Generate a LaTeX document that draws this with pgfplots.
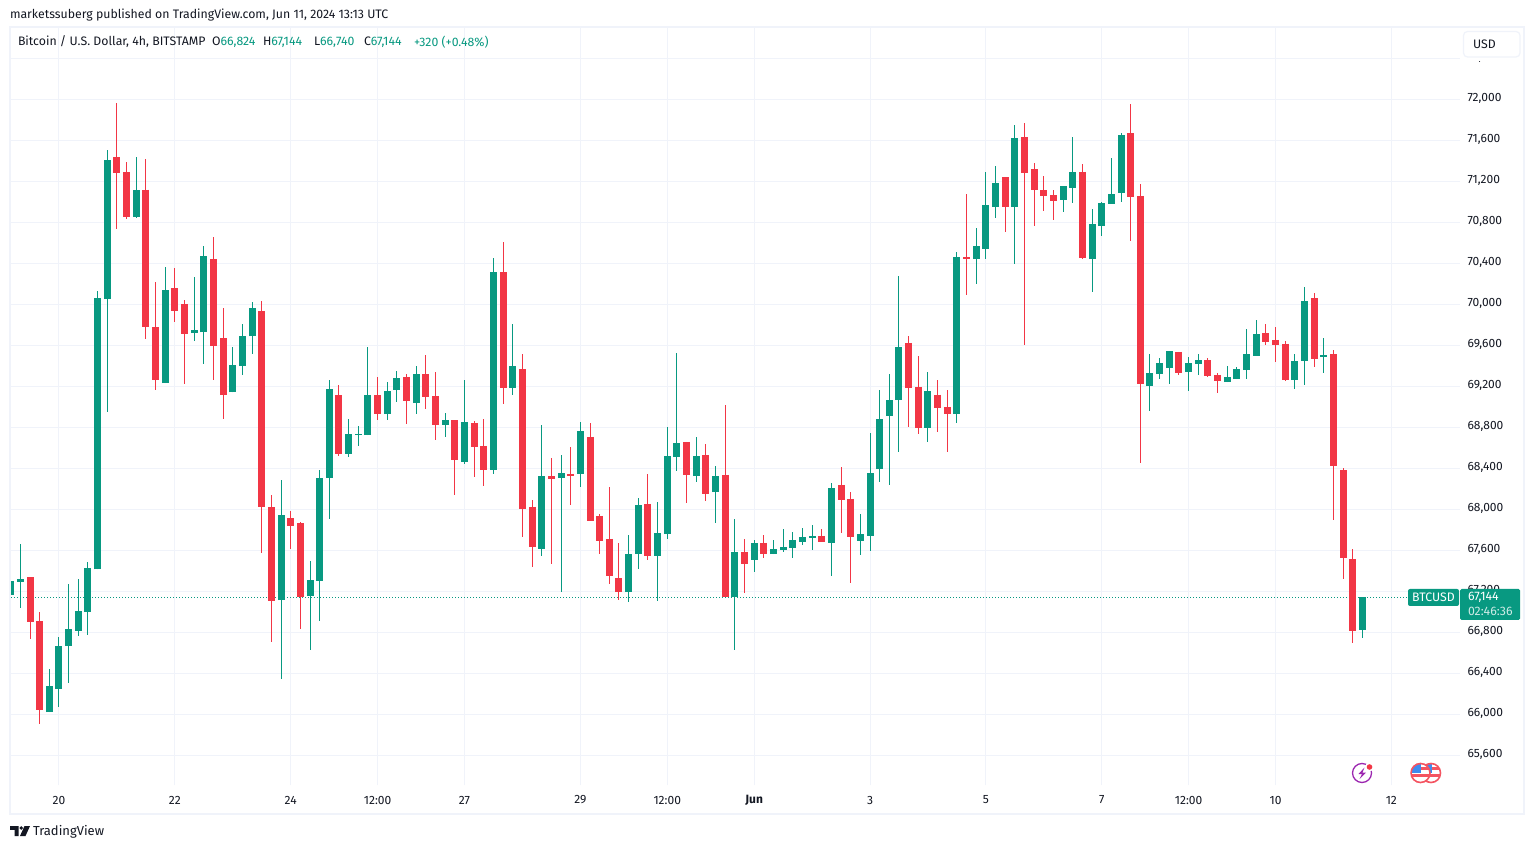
\documentclass[border=0pt]{standalone}
\usepackage{fontspec}
\setmainfont{Fira Sans}
\usepackage{pgfplots}
\usepackage{pgfplotstable}
\pgfplotsset{compat=1.18}
\definecolor{tvgreen}{HTML}{089981}
\definecolor{tvred}{HTML}{F23645}
\definecolor{tvgrid}{HTML}{F0F3FA}
\definecolor{tvtext}{HTML}{131722}
\definecolor{tvpurple}{HTML}{9C27B0}
\definecolor{tvblue}{HTML}{3D8BEF}
\pgfplotstableread{
i o h l c
0 67165 67300 67000 67300
1 67292 67662 67041 67320
4 66022 66440 66022 66277
5 66245 66755 66070 66667
6 66667 67272 66305 66830
7 66814 67320 66762 67009
8 66997 67487 66775 67427
9 67415 70130 67415 70058
10 70050 71503 68947 71407
13 70850 71435 70838 71120
16 69230 70360 69230 70137
19 69719 70265 69644 69747
20 69727 70567 69417 70468
23 69142 69580 69142 69405
24 69397 69807 69310 69688
25 69688 70022 69513 69962
28 67115 68286 66345 67945
31 67154 67496 66627 67310
32 67301 68384 66910 68306
33 68306 69262 67905 69174
35 68540 68881 68510 68735
36 68725 68813 68618 68735
37 68725 69584 68725 69115
39 68930 69242 68871 69154
40 69164 69349 69047 69281
42 69037 69398 68930 69320
45 68823 68940 68705 68871
47 68462 69262 68442 68852
50 68384 70452 68344 70315
52 69184 69808 69115 69398
55 67613 68823 67545 68325
57 68306 68530 67193 68354
59 68345 68852 68218 68764
64 67193 67750 67096 67564
65 67564 68110 67418 68042
67 67545 68072 67106 67769
68 67759 68803 67711 68520
69 68510 69525 68374 68647
71 68325 68706 68267 68520
73 68169 68423 67867 68325
75 67145 67906 66628 67584
77 67506 67701 67389 67672
79 67564 67701 67564 67613
80 67604 67809 67584 67633
81 67623 67779 67525 67701
82 67682 67818 67652 67731
83 67721 67848 67604 67740
85 67672 68257 67350 68209
88 67692 67955 67555 67760
89 67740 68745 67594 68355
90 68394 69165 68267 68882
91 68911 69321 68238 69067
92 69067 70277 68560 69584
95 68794 69340 68657 69155
98 68930 70510 68842 70461
100 70442 70744 70198 70569
101 70540 71291 70442 70969
102 70949 71349 70842 71183
104 70949 71749 70393 71622
109 71018 71154 70901 71154
110 71135 71632 70988 71291
112 70442 70930 70120 70783
113 70764 70998 70666 70988
114 70979 71427 70979 71076
115 71086 71671 70998 71652
118 69203 69515 68959 69330
119 69320 69476 69271 69427
120 69378 69544 69222 69544
122 69339 69486 69154 69427
123 69417 69515 69310 69456
126 69242 69398 69242 69291
127 69271 69388 69271 69369
128 69359 69759 69271 69515
129 69496 69847 69496 69710
133 69261 69515 69174 69447
134 69447 70169 69213 70032
136 69486 69671 69330 69505
140 66824 67144 66740 67144
}\up
\pgfplotstableread{
i o h l c
2 67339 67339 66735 66902
3 66910 66997 65907 66042
11 71435 71960 70730 71280
12 71288 71387 70830 70850
14 71120 71415 69660 69775
15 69775 70217 69162 69262
17 70157 70352 69827 69934
18 70002 70042 69222 69707
21 70440 70655 69262 69592
22 69668 69962 68880 69115
26 69934 70030 67574 68020
27 68020 68140 66706 67105
29 67915 67984 67613 67837
30 67866 67876 66832 67145
34 69115 69213 68520 68540
38 69115 69291 68871 68930
41 69291 69320 68832 69057
43 69320 69505 68979 69096
44 69105 69340 68676 68823
46 68871 68871 68140 68481
48 68842 68862 68315 68608
49 68618 68881 68227 68384
51 70315 70608 69027 69184
53 69369 69515 67730 68003
54 68023 68091 67437 67633
56 68325 68501 67467 68296
58 68345 68608 68042 68325
60 68706 68842 67886 67886
61 67935 67954 67564 67691
62 67711 68218 67272 67350
63 67330 67672 67115 67193
66 68052 68345 67506 67545
70 68657 68657 68062 68335
72 68530 68637 68081 68150
74 68335 69018 67145 67145
76 67584 67711 67184 67467
78 67672 67750 67525 67564
84 67740 67809 67682 67682
86 68238 68413 67770 68092
87 68101 68170 67282 67731
93 69623 69692 68804 69184
94 69194 69496 68735 68794
96 69116 69262 68755 68989
97 68999 69165 68560 68931
99 70461 71076 70091 70442
103 71242 71242 70705 70949
105 71632 71769 69603 71281
106 71320 71379 70764 71115
107 71115 71252 70910 71057
108 71066 71115 70822 71008
111 71291 71369 70442 70452
116 71671 71954 70618 71047
117 71057 71174 68452 69222
121 69535 69535 69310 69330
124 69456 69476 69291 69300
125 69310 69330 69135 69252
130 69720 69808 69603 69632
131 69652 69778 69437 69603
132 69613 69642 69252 69261
135 70061 70110 69388 69466
137 69515 69554 67896 68422
138 68383 68403 67320 67525
139 67515 67613 66696 66813
}\down
\begin{document}
\begin{tikzpicture}[x=1pt,y=1pt]
\useasboundingbox (0,0) rectangle (1534,849);
\fill[white] (0,0) rectangle (1534,849);
\begin{axis}[
  at={(11pt,64pt)}, anchor=south west,
  width=1449pt, height=758pt, scale only axis,
  xmin=0.03, xmax=150.11, ymin=65310.5, ymax=72705.7,
  axis line style={draw=none}, tick style={draw=none},
  xtick={5,17,29,38,47,59,68,77,89,101,113,122,131,143},
  xticklabels={20,22,24,12:00,27,29,12:00,\textbf{Jun},3,5,7,12:00,10,12},
  ytick={65600,66000,...,72400},
  yticklabel pos=right,
  scaled y ticks=false,
  /pgf/number format/1000 sep={,},
  /pgf/number format/assume math mode=true,
  y tick label style={font=\fontsize{12}{14}\selectfont,text=tvtext,anchor=west,xshift=4pt,yshift=0.7pt},
  x tick label style={font=\fontsize{12}{14}\selectfont,text=tvtext,anchor=center,yshift=-15pt},
  grid=both, major grid style={draw=tvgrid,line width=1pt},
]
\addplot[tvgreen,line width=1pt,dash pattern=on 1pt off 2pt,forget plot] coordinates {(0.03,67144) (145,67144)};
% wicks
\addplot[draw=none,no marks,forget plot,error bars/.cd,y dir=both,y explicit,error mark=none,error bar style={line width=1pt,draw=tvgreen}]
  table[x=i,y=o,y error plus expr=\thisrow{h}-\thisrow{o},y error minus expr=\thisrow{o}-\thisrow{l}] {\up};
\addplot[draw=none,no marks,forget plot,error bars/.cd,y dir=both,y explicit,error mark=none,error bar style={line width=1pt,draw=tvred}]
  table[x=i,y=o,y error plus expr=\thisrow{h}-\thisrow{o},y error minus expr=\thisrow{o}-\thisrow{l}] {\down};
% bodies
\addplot[draw=none,no marks,forget plot,error bars/.cd,y dir=plus,y explicit,error mark=none,error bar style={line width=7pt,draw=tvgreen}]
  table[x=i,y=o,y error plus expr=\thisrow{c}-\thisrow{o}] {\up};
\addplot[draw=none,no marks,forget plot,error bars/.cd,y dir=minus,y explicit,error mark=none,error bar style={line width=7pt,draw=tvred}]
  table[x=i,y=o,y error minus expr=\thisrow{o}-\thisrow{c}] {\down};
\end{axis}
\begin{scope}[shift={(0,849)},yscale=-1,every node/.style={inner sep=0pt,outer sep=0pt,font=\fontsize{12.3}{14}\selectfont,text=tvtext}]
  % outer border
  \draw[tvgrid,line width=2pt] (10,27) rectangle (1524,814);
  % header
  \node[anchor=west] at (10,15) {marketssuberg published on TradingView.com, Jun 11, 2024 13:13 UTC};
  \node[anchor=west] at (18,42) {Bitcoin / U.S. Dollar, 4h, BITSTAMP};
  \node[anchor=west] at (212,42) {O\textcolor{tvgreen}{66,824}};
  \node[anchor=west] at (263,42) {H\textcolor{tvgreen}{67,144}};
  \node[anchor=west] at (314,42) {L\textcolor{tvgreen}{66,740}};
  \node[anchor=west] at (364,42) {C\textcolor{tvgreen}{67,144}};
  \node[anchor=west] at (414,42) {\textcolor{tvgreen}{+320 (+0.48\%)}};
  % USD button
  \fill[white] (1462,50) rectangle (1522,61.5);
  \draw[tvgrid,fill=white,line width=1.2pt,rounded corners=4pt] (1463.5,31.5) rectangle (1520,57);
  \node[anchor=west] at (1473,44.5) {USD};
  % last price tags
  \fill[tvgreen,rounded corners=2pt] (1408,589) rectangle (1459,606);
  \node[anchor=center,text=white] at (1433.5,597.5) {BTCUSD};
  \fill[tvgreen,rounded corners=1.5pt] (1460,589) rectangle (1520,620);
  \node[anchor=west,text=white] at (1468,597) {67,144};
  \node[anchor=west,text=white!80!tvgreen] at (1468,611) {02:46:36};
  % event icons
  \draw[tvpurple,line width=1.3pt] (1362,773) circle (9.5);
  \fill[tvpurple] (1364.5,767.5) -- (1358.5,774) -- (1362,774) -- (1359.5,779) -- (1366,772.5) -- (1362.5,772.5) -- cycle;
  \fill[white] (1369.5,767) circle (4.5);
  \fill[tvred] (1369.5,767) circle (2.8);
  \foreach \cx in {1431,1420.5}{
    \begin{scope}
      \clip (\cx,773) circle (9.5);
      \fill[white] (\cx-10,763) rectangle (\cx+10,783);
      \fill[tvred!85] (\cx-10,766.5) rectangle (\cx+10,770);
      \fill[tvred!85] (\cx-10,773.5) rectangle (\cx+10,777);
      \fill[tvblue] (\cx-10,763) rectangle (\cx+0.5,772.5);
    \end{scope}
    \draw[tvred!85,line width=1.6pt] (\cx,773) circle (9.5);
  }
  % logo
  \fill[tvtext] (10,826) -- (18.5,826) -- (18.5,836) -- (14.5,836) -- (14.5,829.8) -- (10,829.8) -- cycle;
  \fill[tvtext] (21.3,828) circle (1.9);
  \fill[tvtext] (24.5,826) -- (30,826) -- (25.5,836) -- (20,836) -- cycle;
  \node[anchor=west] at (33,831.5) {\fontsize{13}{15}\selectfont TradingView};
\end{scope}
\end{tikzpicture}
\end{document}
